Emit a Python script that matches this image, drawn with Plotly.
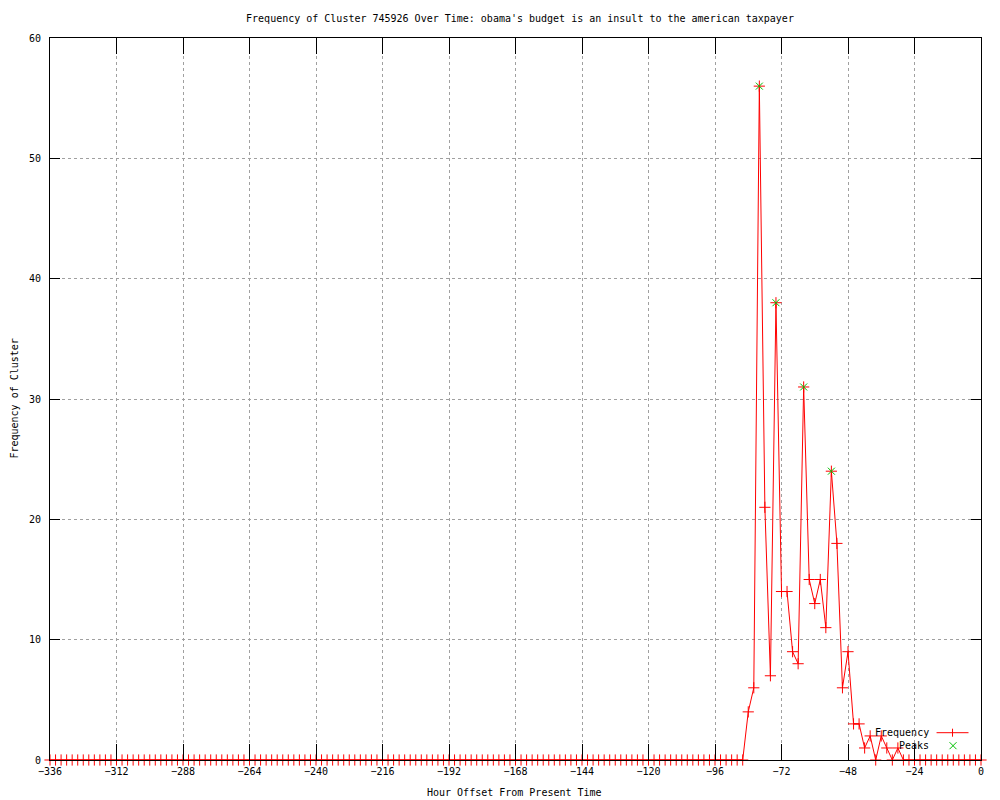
import plotly.graph_objects as go

# ---- data ----
hours = list(range(-336, 2, 2))  # hour offsets, sampled every 2 hours
frequency = [
    0, 0, 0, 0, 0, 0, 0, 0, 0, 0, 0, 0, 0, 0, 0, 0, 0, 0, 0, 0,
    0, 0, 0, 0, 0, 0, 0, 0, 0, 0, 0, 0, 0, 0, 0, 0, 0, 0, 0, 0,
    0, 0, 0, 0, 0, 0, 0, 0, 0, 0, 0, 0, 0, 0, 0, 0, 0, 0, 0, 0,
    0, 0, 0, 0, 0, 0, 0, 0, 0, 0, 0, 0, 0, 0, 0, 0, 0, 0, 0, 0,
    0, 0, 0, 0, 0, 0, 0, 0, 0, 0, 0, 0, 0, 0, 0, 0, 0, 0, 0, 0,
    0, 0, 0, 0, 0, 0, 0, 0, 0, 0, 0, 0, 0, 0, 0, 0, 0, 0, 0, 0,
    0, 0, 0, 0, 0, 0,                                  # -336 .. -86
    4, 6, 56, 21, 7, 38, 14, 14, 9, 8, 31, 15, 13, 15, 11,
    24, 18, 6, 9, 3, 3, 1, 2, 0, 2, 1, 0, 1, 0,        # -84 .. -28
    0, 0, 0, 0, 0, 0, 0, 0, 0, 0, 0, 0, 0, 0,          # -26 .. 0
]
peak_hours = [-80, -74, -64, -54]
peak_values = [56, 38, 31, 24]

x_ticks = [-336, -312, -288, -264, -240, -216, -192, -168, -144, -120, -96, -72, -48, -24, 0]
y_ticks = [0, 10, 20, 30, 40, 50, 60]

title_text = "Frequency of Cluster 745926 Over Time: obama's budget is an insult to the american taxpayer"
x_title = "Hour Offset From Present Time"
y_title = "Frequency of Cluster"

FONT = "DejaVu Sans Mono"
RED = "#ff0000"
GREEN = "#00c000"

# the page body has an 8px margin; work in page pixels and convert
OFF = 8
W, H = 1000 - OFF, 800 - OFF
L, R, T, B = 49.5, 981.5, 38.3, 760.3   # plot-area edges in page pixels


def px(xp):
    return (xp - L) / (R - L)


def py(yp):
    return (B - yp) / (B - T)


fig = go.Figure()
fig.add_trace(go.Scatter(
    x=hours, y=frequency, mode="lines+markers", name="Frequency",
    line=dict(color=RED, width=1),
    marker=dict(symbol="cross-thin", size=8, line=dict(color=RED, width=1)),
    cliponaxis=False, showlegend=False,
))
fig.add_trace(go.Scatter(
    x=peak_hours, y=peak_values, mode="markers", name="Peaks",
    marker=dict(symbol="x-thin", size=7, line=dict(color=GREEN, width=1)),
    cliponaxis=False, showlegend=False,
))

axis_common = dict(
    showline=True, linecolor="black", linewidth=1, mirror="ticks",
    ticks="inside", tickcolor="black", tickwidth=1,
    showgrid=True, gridcolor="#a0a0a0", griddash="dot", gridwidth=1,
    zeroline=False, tickfont=dict(family=FONT, size=10, color="black"),
)

fig.update_xaxes(range=[-336, 0], tickvals=x_ticks, ticklen=16, ticklabelstandoff=2, **axis_common)
fig.update_yaxes(range=[0, 60], tickvals=y_ticks, ticklen=10, ticklabelstandoff=6, **axis_common)

txt_font = dict(family=FONT, size=10, color="black")
annotations = [
    dict(text=y_title, x=px(13), y=0.5, xref="paper", yref="paper", textangle=-90,
         xanchor="center", yanchor="middle", showarrow=False, font=txt_font),
    dict(text=x_title, x=px(514), y=py(793), xref="paper", yref="paper",
         xanchor="center", yanchor="middle", showarrow=False, font=txt_font),
    dict(text="Frequency", x=px(931), y=py(733), xref="paper", yref="paper",
         xanchor="right", yanchor="middle", showarrow=False, font=txt_font),
    dict(text="Peaks", x=px(931), y=py(746), xref="paper", yref="paper",
         xanchor="right", yanchor="middle", showarrow=False, font=txt_font),
]
shapes = [
    dict(type="line", xref="paper", yref="paper", x0=px(937), x1=px(969), y0=py(733), y1=py(733),
         line=dict(color=RED, width=1)),
    dict(type="line", xref="paper", yref="paper", x0=px(953), x1=px(953), y0=py(729), y1=py(737),
         line=dict(color=RED, width=1)),
    dict(type="line", xref="paper", yref="paper", x0=px(950), x1=px(957), y0=py(742.5), y1=py(749.5),
         line=dict(color=GREEN, width=1)),
    dict(type="line", xref="paper", yref="paper", x0=px(950), x1=px(957), y0=py(749.5), y1=py(742.5),
         line=dict(color=GREEN, width=1)),
]

fig.update_layout(
    width=W, height=H,
    margin=dict(l=L - OFF, r=1000 - R, t=T - OFF, b=800 - B, pad=0, autoexpand=False),
    paper_bgcolor="white", plot_bgcolor="white",
    title=dict(text=title_text, x=px(520), xref="paper", y=1 - (18 - OFF) / H, yref="container",
               xanchor="center", yanchor="middle", font=txt_font),
    annotations=annotations, shapes=shapes,
    showlegend=False,
)

fig.write_html("out.html")
